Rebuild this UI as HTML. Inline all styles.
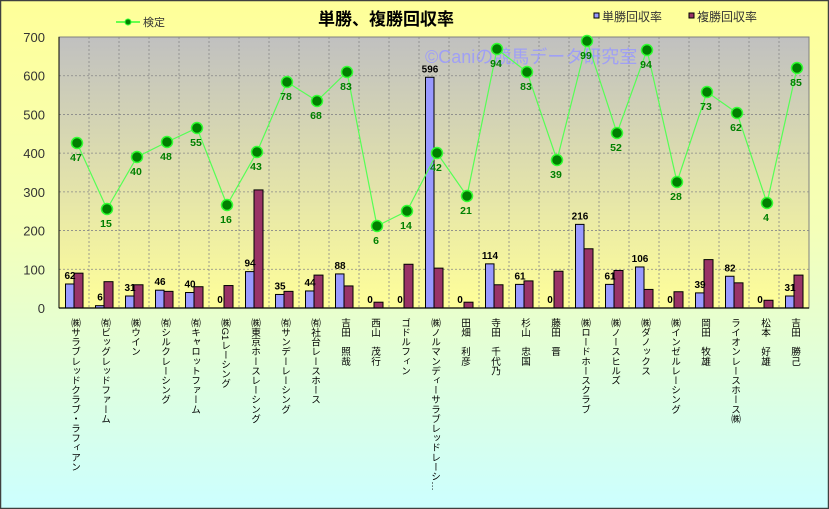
<!DOCTYPE html>
<html><head><meta charset="utf-8"><style>
body{margin:0;}
#c{position:relative;width:829px;height:509px;overflow:hidden;font-family:"Liberation Sans","Noto Sans CJK JP",sans-serif;}
.lb{position:absolute;top:318px;writing-mode:vertical-rl;font-size:9.6px;color:#000;white-space:nowrap;line-height:12px;}
</style></head><body><div id="c">
<svg id="s" width="829" height="509" xmlns="http://www.w3.org/2000/svg" style="position:absolute;left:0;top:0">
<defs>
<linearGradient id="bg" x1="0" y1="0" x2="0" y2="1"><stop offset="0" stop-color="#ffff99"/><stop offset="0.45" stop-color="#f4ffb8"/><stop offset="1" stop-color="#ccffff"/></linearGradient>
<linearGradient id="pg" x1="0" y1="0" x2="0" y2="1"><stop offset="0" stop-color="#c0c0c0"/><stop offset="1" stop-color="#ffff99"/></linearGradient>
</defs>
<rect x="0.5" y="0.5" width="828" height="508" fill="url(#bg)" stroke="#404040" stroke-width="1.5"/>
<rect x="59" y="37" width="750" height="271" fill="url(#pg)" stroke="#808080"/>
<g id="grid" stroke="#888" stroke-dasharray="2,2" stroke-width="0.8"></g>
<text x="386" y="25" font-size="17" font-weight="bold" text-anchor="middle" fill="#000" font-family="Liberation Sans,Noto Sans CJK JP,sans-serif">単勝、複勝回収率</text>
<text x="425" y="63" font-size="18" fill="#9999ff" fill-opacity="0.85" font-family="Liberation Sans,Noto Sans CJK JP,sans-serif">©Caniの競馬データ研究室</text>
<line x1="116" y1="22" x2="140" y2="22" stroke="#33ff33" stroke-width="1.5"/><circle cx="128" cy="22" r="3" fill="#008000" stroke="#33ff33"/>
<text x="143" y="26" font-size="11" fill="#333" font-family="Liberation Sans,Noto Sans CJK JP,sans-serif">検定</text>
<rect x="594" y="13" width="5" height="5" fill="#9999ff" stroke="#000"/>
<text x="602" y="21" font-size="12" fill="#333" font-family="Liberation Sans,Noto Sans CJK JP,sans-serif">単勝回収率</text>
<rect x="689" y="13" width="5" height="5" fill="#993366" stroke="#000"/>
<text x="697" y="21" font-size="12" fill="#333" font-family="Liberation Sans,Noto Sans CJK JP,sans-serif">複勝回収率</text>
<g id="yl" font-size="13" fill="#333" text-anchor="end"></g>
<g id="bars"></g>
<g id="line"></g>
<line x1="59" y1="308" x2="809" y2="308" stroke="#000" stroke-width="1.2"/>
<line x1="59" y1="37" x2="59" y2="308" stroke="#000"/>
</svg>
<div class="lb" style="left:68px">㈱サラブレッドクラブ・ラフィアン</div>
<div class="lb" style="left:98px">㈲ビッグレッドファーム</div>
<div class="lb" style="left:128px">㈱ウイン</div>
<div class="lb" style="left:158px">㈲シルクレーシング</div>
<div class="lb" style="left:188px">㈲キャロットファーム</div>
<div class="lb" style="left:218px">㈱G1レーシング</div>
<div class="lb" style="left:248px">㈱東京ホースレーシング</div>
<div class="lb" style="left:278px">㈲サンデーレーシング</div>
<div class="lb" style="left:308px">㈲社台レースホース</div>
<div class="lb" style="left:338px">吉田　照哉</div>
<div class="lb" style="left:368px">西山　茂行</div>
<div class="lb" style="left:398px">ゴドルフィン</div>
<div class="lb" style="left:428px">㈱ノルマンディーサラブレッドレーシ…</div>
<div class="lb" style="left:458px">田畑　利彦</div>
<div class="lb" style="left:488px">寺田　千代乃</div>
<div class="lb" style="left:518px">杉山　忠国</div>
<div class="lb" style="left:548px">藤田　晋</div>
<div class="lb" style="left:578px">㈱ロードホースクラブ</div>
<div class="lb" style="left:608px">㈱ノースヒルズ</div>
<div class="lb" style="left:638px">㈱ダノックス</div>
<div class="lb" style="left:668px">㈱インゼルレーシング</div>
<div class="lb" style="left:698px">岡田　牧雄</div>
<div class="lb" style="left:728px">ライオンレースホース㈱</div>
<div class="lb" style="left:758px">松本　好雄</div>
<div class="lb" style="left:788px">吉田　勝己</div>
</div>
<script>
var NS="http://www.w3.org/2000/svg";
function el(p,t,a,txt){var e=document.createElementNS(NS,t);for(var k in a)e.setAttribute(k,a[k]);if(txt!==undefined)e.textContent=txt;p.appendChild(e);return e;}
var k=271/700,B=308;
var win=[62,6,31,46,40,0,94,35,44,88,0,0,596,0,114,61,0,216,61,106,0,39,82,0,31];
var plc=[90,68,60,43,55,58,305,43,85,57,15,113,103,15,60,70,95,153,97,48,42,125,65,20,85];
var gy=[143,209,157,142,128,205,152,82,101,72,226,211,153,196,49,72,160,41,133,50,182,92,113,203,68];
var gl=[47,15,40,48,55,16,43,78,68,83,6,14,42,21,94,83,39,99,52,94,28,73,62,4,85];
var g=document.getElementById('grid'),yl=document.getElementById('yl'),bars=document.getElementById('bars'),ln=document.getElementById('line');
for(var v=100;v<=600;v+=100){var y=B-v*k;el(g,'line',{x1:59,y1:y,x2:809,y2:y});}
for(var i=1;i<25;i++){var x=59+30*i;el(g,'line',{x1:x,y1:37,x2:x,y2:308});}
for(var v=0;v<=700;v+=100){el(yl,'text',{x:45,y:B-v*k+5},String(v));}
var pts=[];
for(var i=0;i<25;i++){var cx=74+30*i;
 var hb=win[i]*k,hr=plc[i]*k;
 if(hb>0)el(bars,'rect',{x:cx-8.5,y:B-hb,width:8.5,height:hb,fill:'#9999ff',stroke:'#000','stroke-width':1});
 el(bars,'rect',{x:cx,y:B-hr,width:9,height:hr,fill:'#993366',stroke:'#000','stroke-width':1});
 el(bars,'text',{x:cx-4,y:B-hb-5,'font-size':10,'font-weight':'bold','text-anchor':'middle',fill:'#000'},String(win[i]));
 pts.push((cx+3)+','+gy[i]);}
el(ln,'polyline',{points:pts.join(' '),fill:'none',stroke:'#55ff55','stroke-width':1.2});
for(var i=0;i<25;i++){var cx=74+30*i+3;
 el(ln,'circle',{cx:cx,cy:gy[i],r:5.5,fill:'#008000',stroke:'#33ff33','stroke-width':1.5});
 el(ln,'text',{x:cx-1,y:gy[i]+18,'font-size':10.5,'font-weight':'bold','text-anchor':'middle',fill:'#008000'},String(gl[i]));}
</script>
</body></html>
